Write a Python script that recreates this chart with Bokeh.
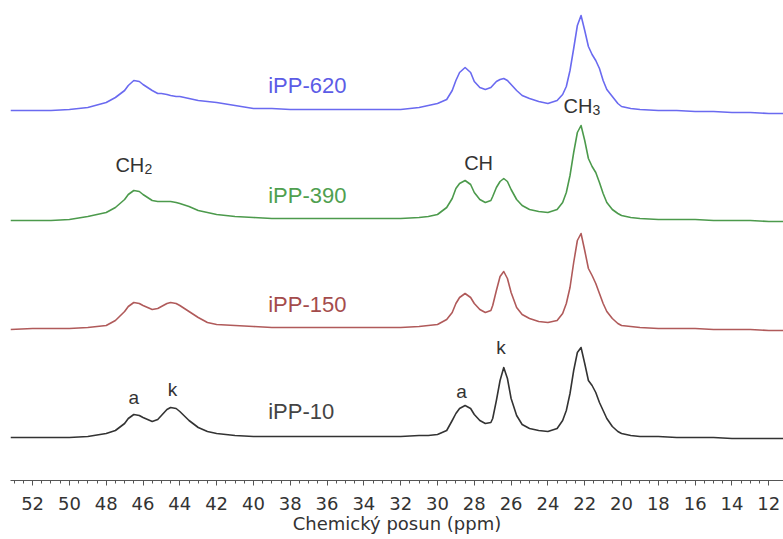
from bokeh.plotting import figure
from bokeh.models import Range1d, FixedTicker, Label, ColumnDataSource
from bokeh.embed import file_html
from bokeh.resources import INLINE

# chemical shift grid (ppm) and intensities
ppm = [53.2, 52, 51, 50, 49, 48, 47.5, 47, 46.8, 46.5, 46.2, 46, 45.5, 45.2, 45,
       44.7, 44.5, 44.2, 44, 43.5, 43, 42.5, 42, 41, 40, 39, 38, 36, 34, 32, 31,
       30.5, 30, 29.5, 29.2, 29, 28.8, 28.5, 28.2, 28, 27.7, 27.4, 27.1, 27, 26.8,
       26.6, 26.4, 26.2, 26, 25.7, 25.4, 25, 24.5, 24, 23.5, 23.2, 23, 22.8, 22.6,
       22.4, 22.2, 22.0, 21.8, 21.6, 21.4, 21.2, 21.0, 20.8, 20.5, 20.2, 20, 19.5,
       19, 18, 17, 16, 15, 14, 13, 12, 11.2]

ipp10 = [0, 0, 0, 0, 1, 4, 7, 14, 19, 23, 22, 20, 16, 18, 22,
         28, 30, 29, 26, 17, 10, 6, 4, 2, 1, 1, 1, 1, 1, 1, 2,
         2, 3, 7, 17, 24, 29, 32, 29, 23, 17, 14, 15, 19, 37,
         57, 70, 59, 39, 22, 13, 9, 7, 6, 9, 17, 27, 44, 67,
         85, 90, 74, 57, 52, 45, 35, 27, 19, 11, 6, 4, 2,
         1, 1, 0, 0, 0, -1, -1, -1, -1]

ipp150 = [-2, -1, -1, -1, 0, 2, 7, 16, 21, 25, 24, 22, 18, 19, 21,
          24, 25, 24, 22, 16, 10, 5, 3, 2, 1, 0, 0, 0, 0, 0, 1,
          2, 3, 8, 15, 24, 30, 34, 30, 24, 18, 15, 17, 22, 37,
          51, 56, 49, 35, 20, 13, 9, 6, 5, 7, 14, 24, 40, 65,
          87, 94, 77, 59, 52, 44, 34, 24, 16, 9, 4, 2, 1,
          0, -1, -1, -1, -2, -2, -2, -3, -3]

ipp390 = [-2, -2, -2, -1, 2, 6, 11, 19, 24, 28, 27, 24, 18, 17, 17,
          17, 17, 16, 15, 12, 8, 6, 4, 2, 1, 0, 0, 0, 0, 0, 1,
          2, 4, 11, 20, 30, 35, 38, 34, 26, 19, 16, 18, 22, 31,
          37, 40, 37, 29, 19, 13, 9, 7, 6, 9, 16, 26, 43, 66,
          86, 93, 78, 60, 52, 46, 36, 25, 16, 9, 5, 3, 1,
          0, -1, -1, -1, -2, -2, -2, -3, -3]

ipp620 = [0, 0, 0, 1, 3, 8, 13, 20, 25, 30, 29, 26, 20, 17, 17,
          16, 15, 14, 14, 12, 10, 9, 8, 5, 2, 2, 1, 1, 1, 1, 3,
          5, 7, 11, 20, 30, 38, 43, 38, 29, 23, 21, 23, 25, 29,
          31, 32, 30, 26, 20, 15, 12, 9, 7, 10, 16, 24, 40, 62,
          85, 95, 80, 64, 56, 50, 42, 30, 21, 14, 7, 4, 2,
          1, 0, 0, -1, -1, -2, -2, -3, -3]

series_names = ["iPP-10", "iPP-150", "iPP-390", "iPP-620"]
series_values = [ipp10, ipp150, ipp390, ipp620]
offsets = [43, 153, 262, 370]
line_colors = ["#333333", "#b05a5a", "#4c9a4c", "#6a6af0"]
label_colors = ["#444444", "#a44c4c", "#4fa04f", "#5c5ce6"]

major_ticks = list(range(12, 54, 2))
minor_ticks = [12 + 0.5 * i for i in range(0, 83)]

p = figure(width=783, height=536, output_backend="svg", toolbar_location=None,
           x_range=Range1d(53.2, 11.2), y_range=Range1d(0, 472),
           min_border_left=10, min_border_right=0, min_border_top=8,
           min_border_bottom=56)
p.outline_line_color = None
p.xgrid.visible = False
p.ygrid.visible = False
p.yaxis.visible = False
p.background_fill_color = "white"
p.border_fill_color = "white"

for name, vals, off, col in zip(series_names, series_values, offsets, line_colors):
    src = ColumnDataSource(dict(x=ppm, y=[v + off for v in vals]))
    p.line("x", "y", source=src, line_color=col, line_width=1.6, line_join="round")

ax = p.xaxis[0]
ax.ticker = FixedTicker(ticks=major_ticks, minor_ticks=minor_ticks)
ax.axis_label = "Chemický posun (ppm)"
ax.axis_label_text_font = "DejaVu Sans"
ax.axis_label_text_font_size = "18px"
ax.axis_label_text_font_style = "normal"
ax.axis_label_text_color = "#333333"
ax.axis_label_standoff = 0
ax.major_label_text_font = "DejaVu Sans"
ax.major_label_text_font_size = "18px"
ax.major_label_text_color = "#333333"
ax.major_label_standoff = 11
ax.axis_line_color = "#555555"
ax.major_tick_line_color = "#555555"
ax.minor_tick_line_color = "#555555"
ax.major_tick_in = 0
ax.major_tick_out = 5
ax.minor_tick_in = 0
ax.minor_tick_out = 3

# series labels (left aligned, baseline)
label_ppm = 39.2
label_base = [69, 176, 285, 395]
for name, yb, col in zip(series_names, label_base, label_colors):
    p.add_layout(Label(x=label_ppm, y=yb, text=name, text_font="Liberation Sans",
                       text_font_size="22px", text_color=col,
                       text_align="left", text_baseline="alphabetic"))

ann_font = "Liberation Sans"
ann_color = "#333333"
# groups with subscripts
groups = [("CH", "2", 47.5, 316), ("CH", "", 28.55, 318), ("CH", "3", 23.15, 375)]
for main, sub, xp, yb in groups:
    p.add_layout(Label(x=xp, y=yb, text=main, text_font=ann_font, text_font_size="20px",
                       text_color=ann_color, text_align="left", text_baseline="alphabetic"))
    if sub:
        p.add_layout(Label(x=xp, y=yb, x_offset=29, y_offset=-4, text=sub,
                           text_font=ann_font, text_font_size="14px",
                           text_color=ann_color, text_align="left",
                           text_baseline="alphabetic"))

# amorphous / crystalline markers
marks = [("a", 46.5, 83), ("k", 44.4, 91), ("a", 28.7, 89), ("k", 26.55, 133)]
for t, xp, yb in marks:
    p.add_layout(Label(x=xp, y=yb, text=t, text_font=ann_font, text_font_size="19px",
                       text_color=ann_color, text_align="center",
                       text_baseline="alphabetic"))

open("out.html", "w").write(file_html(p, INLINE))
